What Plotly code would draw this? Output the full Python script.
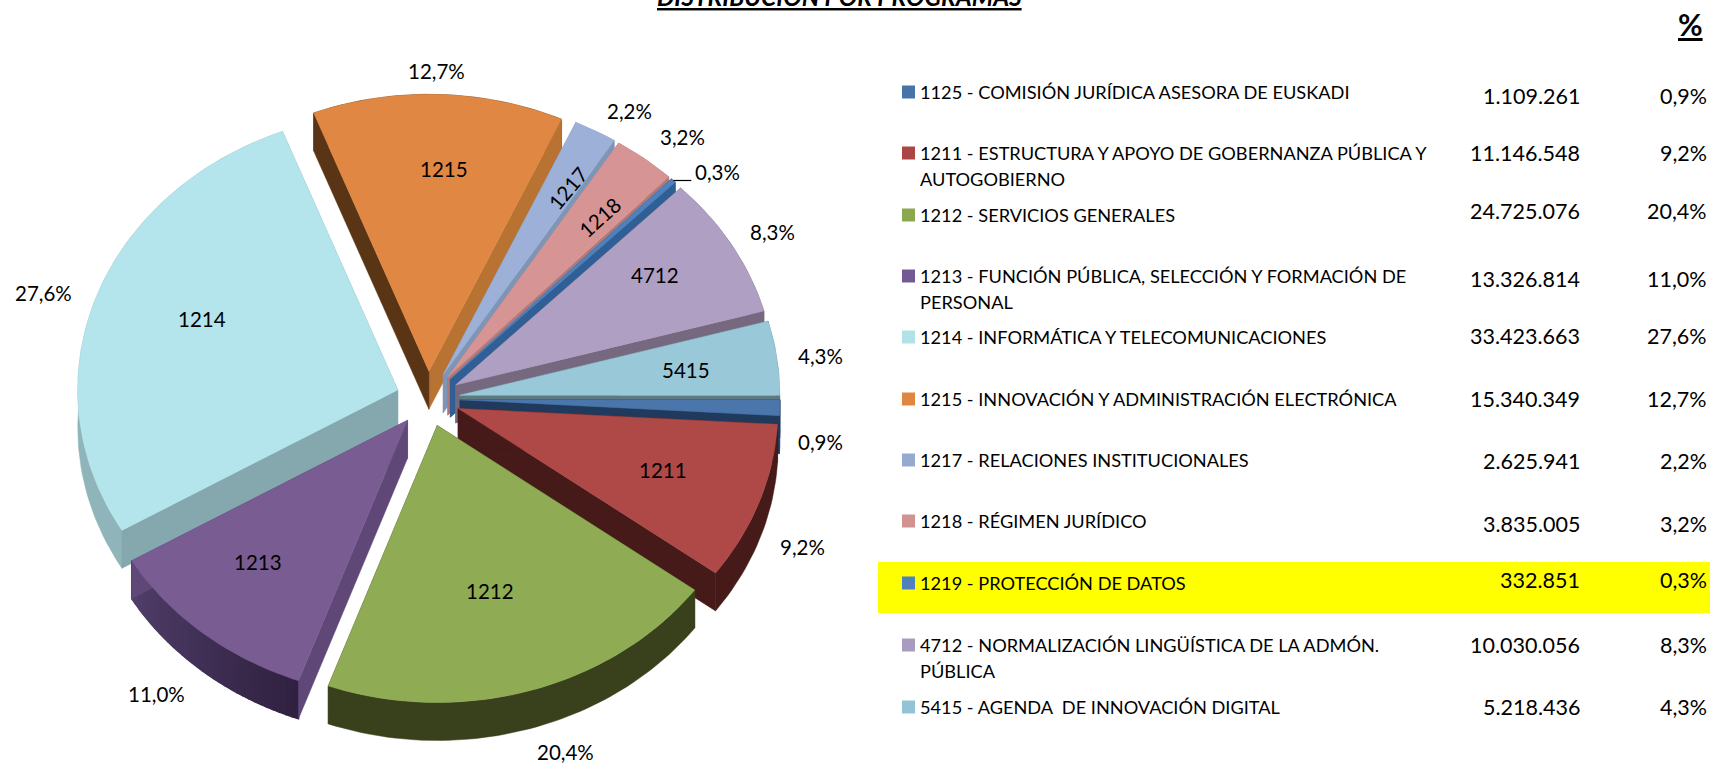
import numpy as np
import plotly.graph_objects as go

# ---- data ----
CODES = ["1125", "1211", "1212", "1213", "1214", "1215", "1217", "1218", "1219", "4712", "5415"]
NAME_LINES = [
    ["1125 - COMISIÓN JURÍDICA ASESORA DE EUSKADI"],
    ["1211 - ESTRUCTURA Y APOYO DE GOBERNANZA PÚBLICA Y", "AUTOGOBIERNO"],
    ["1212 - SERVICIOS GENERALES"],
    ["1213 - FUNCIÓN PÚBLICA, SELECCIÓN Y FORMACIÓN DE", "PERSONAL"],
    ["1214 - INFORMÁTICA Y TELECOMUNICACIONES"],
    ["1215 - INNOVACIÓN Y ADMINISTRACIÓN ELECTRÓNICA"],
    ["1217 - RELACIONES INSTITUCIONALES"],
    ["1218 - RÉGIMEN JURÍDICO"],
    ["1219 - PROTECCIÓN DE DATOS"],
    ["4712 - NORMALIZACIÓN LINGÜÍSTICA DE LA ADMÓN.", "PÚBLICA"],
    ["5415 - AGENDA  DE INNOVACIÓN DIGITAL"],
]
AMOUNTS = [1109261, 11146548, 24725076, 13326814, 33423663, 15340349,
           2625941, 3835005, 332851, 10030056, 5218436]
TITLE = "DISTRIBUCIÓN POR PROGRAMAS"

# ---- styles ----
TOP = ["#4a76ab", "#ae4947", "#8fac54", "#795c92", "#b4e5ec", "#e08843",
       "#9cb0d8", "#d69594", "#4f81bd", "#af9fc3", "#99c8d9"]
SWATCH = ["#4673a8", "#ab4644", "#8ba84e", "#735a94", "#b0e2e8", "#e0873f",
          "#96a9d0", "#d09392", "#4f81bd", "#a99bc0", "#92c3d6"]
WALL_START = ["#1f3a5c", "#451a18", "#38401c", "#5f4878", "#84a8ad", "#5a3515",
              "#7e95b5", "#b07a78", "#2f5f95", "#76697f", "#5d7a80"]
WALL_END = ["#1f3a5c", "#451a18", "#38401c", "#5f4878", "#84a8ad", "#b87333",
            "#7e95b5", "#b07a78", "#2f5f95", "#76697f", "#5d7a80"]
# outer wall shading: colour at the slice's start and end angle
WALL_OUT_A = [(0x1f, 0x3a, 0x5c), (0x45, 0x1a, 0x18), (0x38, 0x40, 0x1c), (0x2f, 0x21, 0x40),
              (0x8f, 0xb5, 0xba), (0x5a, 0x35, 0x15), (0x7e, 0x95, 0xb5), (0xb0, 0x7a, 0x78),
              (0x2f, 0x5f, 0x95), (0x76, 0x69, 0x7f), (0x5d, 0x7a, 0x80)]
WALL_OUT_B = [(0x1f, 0x3a, 0x5c), (0x45, 0x1a, 0x18), (0x38, 0x40, 0x1c), (0x52, 0x3e, 0x6a),
              (0x8f, 0xb5, 0xba), (0x5a, 0x35, 0x15), (0x7e, 0x95, 0xb5), (0xb0, 0x7a, 0x78),
              (0x2f, 0x5f, 0x95), (0x76, 0x69, 0x7f), (0x5d, 0x7a, 0x80)]
DRAW_ORDER = [5, 6, 7, 8, 9, 4, 10, 0, 1, 3, 2]

# ---- layout constants (pixels of the 1710x764 axes) ----
CX, CY, RX, RY = 428, 399, 320, 277
PULL, DEPTH = 0.10, 38
FONT = "Lato, Carlito, Calibri, sans-serif"
FS_LEGEND, FS_VALUE, FS_PIE = 18.2, 21.5, 20.5
INNER_POS = [None, (663, 470), (490, 591), (258, 562), (202, 319), (444, 169),
             (568, 188), (600, 217), None, (655, 275), (686, 370)]
INNER_ANGLE = [0, 0, 0, 0, 0, 0, -50, -42, 0, 0, 0]
OUTER_POS = [(820, 442), (802, 547), (565, 752), (156, 694), (43, 293), (436, 71),
             (629, 111), (682, 137), (717, 172), (772, 232), (820, 356)]
LABEL_Y = [[92], [153, 179], [215], [276, 302], [337], [399], [460], [521], [583], [645, 671], [707]]
VALUE_Y = [96, 153, 211, 279, 336, 399, 461, 524, 580, 645, 707]

fig = go.Figure()


def poly(xs, ys, color, width=0.5):
    fig.add_trace(go.Scatter(x=xs, y=ys, mode="lines", fill="toself", fillcolor=color,
                             line=dict(color=color, width=width), hoverinfo="skip", showlegend=False))


total = sum(AMOUNTS)
fractions = np.array(AMOUNTS) / total
ends = np.cumsum(fractions) * 2 * np.pi
starts = ends - fractions * 2 * np.pi

for i in DRAW_ORDER:
    mid = (starts[i] + ends[i]) / 2
    ax_, ay_ = CX + PULL * RX * np.cos(mid), CY + PULL * RY * np.sin(mid)
    th = np.linspace(starts[i], ends[i], max(3, int(fractions[i] * 300)))
    ox, oy = ax_ + RX * np.cos(th), ay_ + RY * np.sin(th)
    # outer wall: a solid band, shaded strip by strip where its colour changes
    base = tuple(round((a + b) / 2) for a, b in zip(WALL_OUT_A[i], WALL_OUT_B[i]))
    poly(list(ox) + list(ox[::-1]) + [ox[0]], list(oy) + list(oy[::-1] + DEPTH) + [oy[0]], "rgb(%d,%d,%d)" % base)
    if WALL_OUT_A[i] != WALL_OUT_B[i]:
        n = len(th) - 1
        for j in range(n):
            t = (j + 0.5) / n
            c = tuple(round(a + (b - a) * t) for a, b in zip(WALL_OUT_A[i], WALL_OUT_B[i]))
            poly([ox[j], ox[j + 1], ox[j + 1], ox[j], ox[j]],
                 [oy[j], oy[j + 1], oy[j + 1] + DEPTH, oy[j] + DEPTH, oy[j]], "rgb(%d,%d,%d)" % c, width=1.5)
    # radial side walls, then the top surface
    poly([ax_, ox[-1], ox[-1], ax_, ax_], [ay_, oy[-1], oy[-1] + DEPTH, ay_ + DEPTH, ay_], WALL_END[i])
    poly([ax_, ox[0], ox[0], ax_, ax_], [ay_, oy[0], oy[0] + DEPTH, ay_ + DEPTH, ay_], WALL_START[i])
    poly([ax_] + list(ox) + [ax_], [ay_] + list(oy) + [ay_], TOP[i])

# leader line of the smallest slice
k = CODES.index("1219")
mid_k = (starts[k] + ends[k]) / 2
lx = CX + (1 + PULL) * RX * np.cos(mid_k)
ly = CY + (1 + PULL) * RY * np.sin(mid_k)
fig.add_trace(go.Scatter(x=[lx, lx + 18], y=[ly, ly], mode="lines", line=dict(color="#000000", width=1.2),
                         hoverinfo="skip", showlegend=False))

# legend swatches
fig.add_trace(go.Scatter(x=[908.5] * len(CODES), y=[ys[0] for ys in LABEL_Y], mode="markers",
                         marker=dict(symbol="square", size=13, color=SWATCH, line=dict(width=0)),
                         hoverinfo="skip", showlegend=False))

ann = []


def txt(x, y, s, anchor="center", size=FS_LEGEND, angle=0, yshift=0):
    ann.append(dict(x=x, y=y, xref="x", yref="y", text=s, showarrow=False, xanchor=anchor, yanchor="middle",
                    textangle=angle, font=dict(family=FONT, size=size, color="#000000"),
                    borderpad=0, borderwidth=0, yshift=yshift))


def es_pct(f):
    return f"{f * 100:.1f}".replace(".", ",") + "%"


def es_int(v):
    return f"{v:,}".replace(",", ".")


for i, code in enumerate(CODES):
    if INNER_POS[i]:
        txt(*INNER_POS[i], code, angle=INNER_ANGLE[i], size=FS_PIE)
    txt(*OUTER_POS[i], es_pct(fractions[i]), size=FS_PIE)
    for line, y in zip(NAME_LINES[i], LABEL_Y[i]):
        txt(920, y, line, anchor="left")
    txt(1580, VALUE_Y[i], es_int(AMOUNTS[i]), anchor="right", size=FS_VALUE)
    txt(1707, VALUE_Y[i], es_pct(fractions[i]), anchor="right", size=FS_VALUE)

txt(839, 0.5, f"<b><i><u>{TITLE}</u></i></b>", size=24.5, yshift=4.5)
txt(1703, 24, "<b><u>%</u></b>", anchor="right", size=30)

fig.update_layout(
    width=1710, height=764, margin=dict(l=0, r=0, t=0, b=0), autosize=False,
    paper_bgcolor="#ffffff", plot_bgcolor="#ffffff", showlegend=False, annotations=ann,
    xaxis=dict(range=[0, 1710], visible=False, fixedrange=True),
    yaxis=dict(range=[764, 0], visible=False, fixedrange=True),
    shapes=[dict(type="rect", xref="x", yref="y", x0=878, x1=1710, y0=562, y1=613,
                 fillcolor="#ffff00", line=dict(width=0), layer="below")],
)
fig.write_html("out.html", config=dict(displayModeBar=False),
               post_script="document.body.style.margin='0';document.documentElement.style.overflow='hidden';")
